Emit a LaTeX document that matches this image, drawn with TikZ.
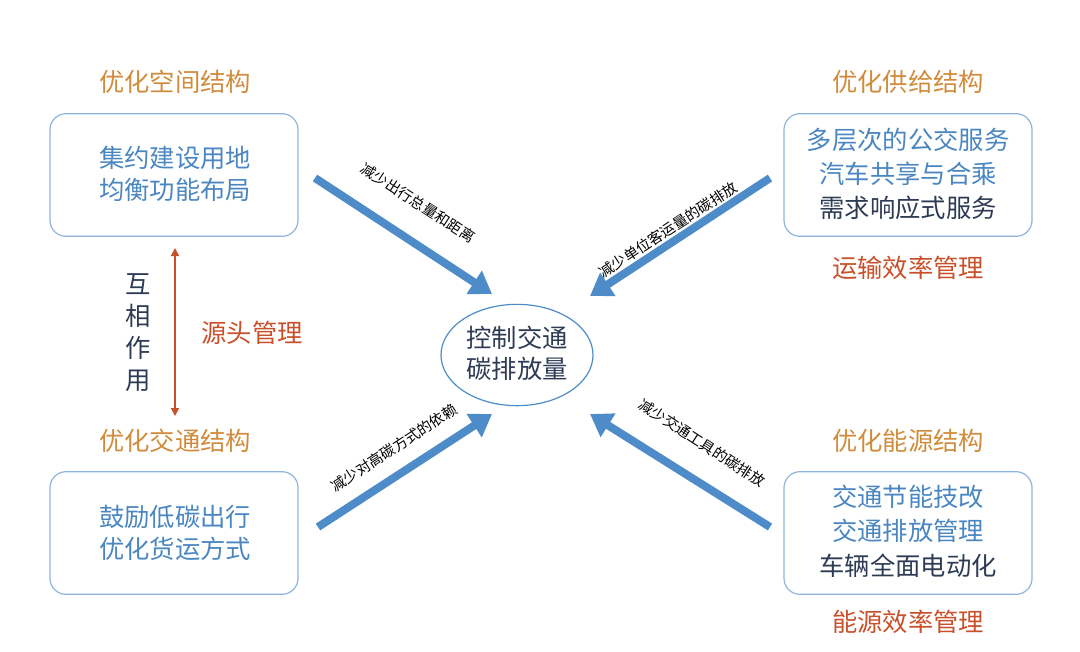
\documentclass[tikz,border=0pt]{standalone}
\usepackage{fontspec}
\setmainfont{Noto Sans CJK SC}
\usetikzlibrary{arrows.meta,shapes.geometric}
\definecolor{org}{HTML}{D08C3C}
\definecolor{blu}{HTML}{4A86C0}
\definecolor{navy}{HTML}{2E3B55}
\definecolor{rd}{HTML}{C8502A}
\definecolor{bx}{HTML}{8DB4DC}
\definecolor{arr}{HTML}{4D8CC8}
\tikzset{
 ttl/.style={text=org,font=\fontsize{19}{22}\selectfont},
 mg/.style={text=rd,font=\fontsize{19}{22}\selectfont},
 tx/.style={text=blu,font=\fontsize{19}{22}\selectfont},
 dk/.style={text=navy,font=\fontsize{19}{22}\selectfont},
 bxs/.style={draw=bx,line width=0.9pt,rounded corners=12pt,minimum width=186pt,minimum height=92pt},
 big/.style={draw=arr,line width=6pt,-{Triangle[length=16pt,width=20pt]}},
 lab/.style={font=\fontsize{11}{13}\selectfont,text=black}
}
\begin{document}
\begin{tikzpicture}[x=0.75pt,y=-0.75pt]
\useasboundingbox (0,0) rectangle (1080,651);
\node[ttl] (t1) at (175,82) {优化空间结构};
\node[bxs] (b1) at (174,175) {};
\node[tx] (b1a) at (175,158) {集约建设用地};
\node[tx] (b1b) at (175,190) {均衡功能布局};
\node[ttl] (t2) at (908,82) {优化供给结构};
\node[bxs] (b2) at (908,175) {};
\node[tx] (b2a) at (908,140) {多层次的公交服务};
\node[tx] (b2b) at (908,174) {汽车共享与合乘};
\node[dk] (b2c) at (908,208) {需求响应式服务};
\node[mg] (m2) at (908,268) {运输效率管理};
\node[ttl] (t3) at (175,441) {优化交通结构};
\node[bxs] (b3) at (174,533) {};
\node[tx] (b3a) at (175,517) {鼓励低碳出行};
\node[tx] (b3b) at (175,549) {优化货运方式};
\node[ttl] (t4) at (908,441) {优化能源结构};
\node[bxs] (b4) at (908,533) {};
\node[tx] (b4a) at (908,497) {交通节能技改};
\node[tx] (b4b) at (908,531) {交通排放管理};
\node[dk] (b4c) at (908,566) {车辆全面电动化};
\node[mg] (m4) at (908,622) {能源效率管理};
\node[mg] (m1) at (252,333) {源头管理};
\node[text=navy,font=\fontsize{19}{24}\selectfont,align=center] (v) at (138,333) {互\\相\\作\\用};
\coordinate (u1) at (175,248); \coordinate (u2) at (175,416);
\draw[rd,line width=1.2pt,{Triangle[length=6pt,width=6pt]}-{Triangle[length=6pt,width=6pt]}] (u1) -- (u2);
\node[draw=arr,line width=0.9pt,ellipse,minimum width=114pt,minimum height=76pt] (c) at (517,355) {};
\node[text=navy,font=\fontsize{19}{23}\selectfont,align=center] (ct) at (517,353) {控制交通\\碳排放量};
\coordinate (a1) at (315,178); \coordinate (a1e) at (492,294);
\coordinate (a2) at (770,178); \coordinate (a2e) at (590,296);
\coordinate (a3) at (318,527); \coordinate (a3e) at (492,414);
\coordinate (a4) at (770,527); \coordinate (a4e) at (590,414);
\draw[big] (a1) -- (a1e);
\draw[big] (a2) -- (a2e);
\draw[big] (a3) -- (a3e);
\draw[big] (a4) -- (a4e);
\node[lab,rotate=-33] (l1) at (418,203) {减少出行总量和距离};
\node[lab,rotate=33] (l2) at (668,230) {减少单位客运量的碳排放};
\node[lab,rotate=33] (l3) at (394,448) {减少对高碳方式的依赖};
\node[lab,rotate=-33] (l4) at (702,443) {减少交通工具的碳排放};
\end{tikzpicture}
\end{document}
